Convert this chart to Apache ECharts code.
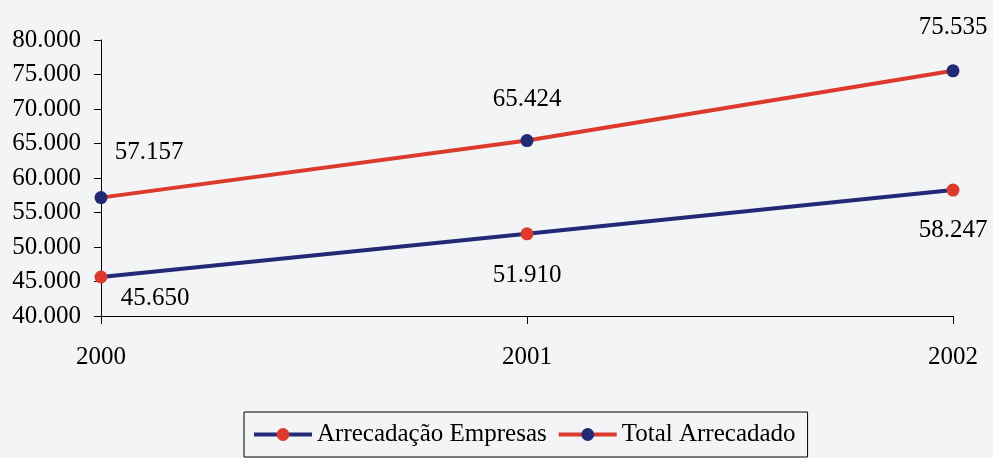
<!DOCTYPE html>
<html>
<head>
<meta charset="utf-8">
<script src="https://cdn.jsdelivr.net/npm/echarts@6/dist/echarts.min.js"></script>
<style>
html,body{margin:0;padding:0;background:#f3f4f6;}
#chart{width:993px;height:458px;}
</style>
</head>
<body>
<div id="chart"></div>
<script>
const categories = ['2000', '2001', '2002'];
const empresas = [45650, 51910, 58247];
const total = [57157, 65424, 75535];
const seriesNames = ['Arrecadação Empresas', 'Total Arrecadado'];

const RED = '#dc3a2c';
const NAVY = '#222a76';
const FONT = '"Liberation Serif", "Times New Roman", serif';

// label placement (style only)
const offEmpresas = [[54, 21], [0, 42], [0, 40]];
const offTotal = [[48, -45], [0, -41], [0, -43]];

function fmt(v) {
  return String(v).replace(/\B(?=(\d{3})+(?!\d))/g, '.');
}

function withLabels(values, offsets) {
  return values.map((v, i) => ({
    value: v,
    label: { offset: offsets[i] }
  }));
}

const chart = echarts.init(document.getElementById('chart'), null, { renderer: 'canvas' });
chart.setOption({
  animation: false,
  backgroundColor: '#f3f4f6',
  grid: { left: 101, right: 40, top: 40, bottom: 142, containLabel: false },
  legend: {
    left: 244,
    top: 412,
    padding: [10, 12, 10, 8],
    borderColor: '#000',
    borderWidth: 1,
    itemWidth: 58,
    itemHeight: 16,
    itemGap: 10,
    lineStyle: { width: 4 },
    data: seriesNames,
    textStyle: { fontFamily: FONT, fontSize: 25, color: '#000' }
  },
  xAxis: {
    type: 'category',
    data: categories,
    boundaryGap: false,
    axisLine: { lineStyle: { color: '#000', width: 1 } },
    axisTick: { show: true, alignWithLabel: true, length: 8, lineStyle: { color: '#000' } },
    axisLabel: { fontFamily: FONT, fontSize: 25, color: '#000', margin: 29 },
    splitLine: { show: false }
  },
  yAxis: {
    type: 'value',
    min: 40000,
    max: 80000,
    interval: 5000,
    axisLine: { show: true, lineStyle: { color: '#000', width: 1 } },
    axisTick: { show: true, length: 7, lineStyle: { color: '#000' } },
    axisLabel: { fontFamily: FONT, fontSize: 25, color: '#000', margin: 20, formatter: fmt },
    splitLine: { show: false }
  },
  series: [
    {
      name: seriesNames[0],
      type: 'line',
      data: withLabels(empresas, offEmpresas),
      symbol: 'circle',
      symbolSize: 13,
      lineStyle: { color: NAVY, width: 4 },
      itemStyle: { color: RED, borderWidth: 0 },
      label: {
        show: true, position: 'inside', formatter: p => fmt(p.value),
        fontFamily: FONT, fontSize: 25, color: '#000'
      },
      emphasis: { disabled: true }
    },
    {
      name: seriesNames[1],
      type: 'line',
      data: withLabels(total, offTotal),
      symbol: 'circle',
      symbolSize: 13,
      lineStyle: { color: RED, width: 4 },
      itemStyle: { color: NAVY, borderWidth: 0 },
      label: {
        show: true, position: 'inside', formatter: p => fmt(p.value),
        fontFamily: FONT, fontSize: 25, color: '#000'
      },
      emphasis: { disabled: true }
    }
  ]
});
</script>
</body>
</html>
